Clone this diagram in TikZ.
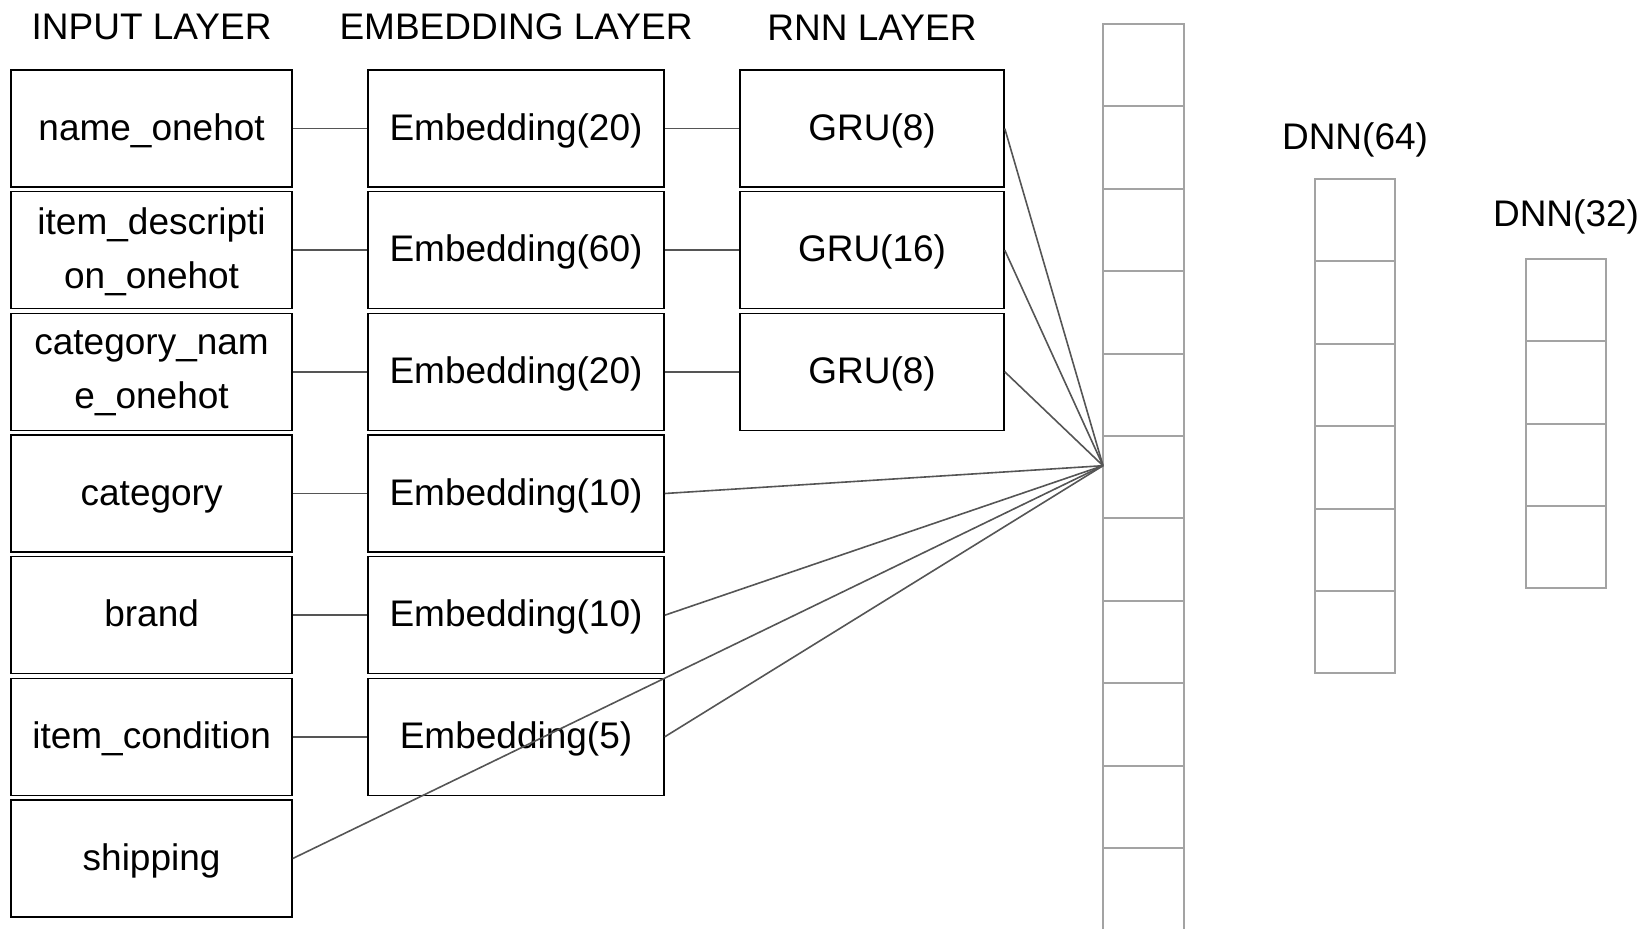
\documentclass[tikz,border=0pt]{standalone}
\usepackage{fontspec}
\setmainfont{Liberation Sans}
\definecolor{connc}{HTML}{555555}
\definecolor{cellc}{HTML}{A3A3A3}
\begin{document}
\begin{tikzpicture}[x=1pt,y=-1pt,
  box/.style={draw=black, line width=1.5pt, minimum height=117pt, inner sep=0pt, align=center, font=\fontsize{37}{54}\selectfont},
  one/.style={text height=26pt, text depth=3pt},
  two/.style={text depth=4pt},
  inbox/.style={box, minimum width=280.8pt},
  embbox/.style={box, minimum width=296pt},
  grubox/.style={box, minimum width=264pt},
  conn/.style={draw=connc, line width=1.6pt},
  cell/.style={draw=cellc, line width=2pt},
  title/.style={font=\fontsize{37}{44}\selectfont, inner sep=0pt, text height=26pt, text depth=7pt}]
\useasboundingbox (0,0) rectangle (1645,929);

% titles
\node[title] (tin)  at (151.6,29.8) {INPUT LAYER};
\node[title] (temb) at (516,29.8) {EMBEDDING LAYER};
\node[title] (trnn) at (872,30.5) {RNN LAYER};
\node[title] (td64) at (1355,139.5) {DNN(64)};
\node[title] (td32) at (1566,217.2) {DNN(32)};

% input layer
\node[inbox,one] (in1) at (151.6,128.5) {name\_onehot};
\node[inbox,two] (in2) at (151.6,250.2) {item\_descripti\\on\_onehot};
\node[inbox,two] (in3) at (151.6,371.8) {category\_nam\\e\_onehot};
\node[inbox,one] (in4) at (151.6,493.5) {category};
\node[inbox,one] (in5) at (151.6,615.2) {brand};
\node[inbox,one] (in6) at (151.6,736.8) {item\_condition};
\node[inbox,one] (in7) at (151.6,858.5) {shipping};

% embedding layer
\node[embbox,one] (e1) at (516,128.5) {Embedding(20)};
\node[embbox,one] (e2) at (516,250.2) {Embedding(60)};
\node[embbox,one] (e3) at (516,371.8) {Embedding(20)};
\node[embbox,one] (e4) at (516,493.5) {Embedding(10)};
\node[embbox,one] (e5) at (516,615.2) {Embedding(10)};
\node[embbox,one] (e6) at (516,736.8) {Embedding(5)};

% rnn layer
\node[grubox,one] (g1) at (872,128.5) {GRU(8)};
\node[grubox,one] (g2) at (872,250.2) {GRU(16)};
\node[grubox,one] (g3) at (872,371.8) {GRU(8)};

% concatenated column
\coordinate (hub) at (1103,465.7);
\draw[cell] (1103,929) -- (1103,24) -- (1184,24) -- (1184,929);
\foreach \k in {1,...,10} {
  \draw[cell] (1103,{24+82.4*\k}) -- (1184,{24+82.4*\k});
}

% DNN(64)
\draw[cell] (1314.5,179) rectangle (1395,673.4);
\foreach \k in {1,...,5} {
  \draw[cell] (1314.5,{179+82.4*\k}) -- (1395,{179+82.4*\k});
}

% DNN(32)
\draw[cell] (1525.5,258.7) rectangle (1606,588.3);
\foreach \k in {1,...,3} {
  \draw[cell] (1525.5,{258.7+82.4*\k}) -- (1606,{258.7+82.4*\k});
}

% connectors
\draw[conn] (in1.east) -- (e1.west);
\draw[conn] (in2.east) -- (e2.west);
\draw[conn] (in3.east) -- (e3.west);
\draw[conn] (in4.east) -- (e4.west);
\draw[conn] (in5.east) -- (e5.west);
\draw[conn] (in6.east) -- (e6.west);
\draw[conn] (e1.east) -- (g1.west);
\draw[conn] (e2.east) -- (g2.west);
\draw[conn] (e3.east) -- (g3.west);
\draw[conn] (g1.east) -- (hub);
\draw[conn] (g2.east) -- (hub);
\draw[conn] (g3.east) -- (hub);
\draw[conn] (e4.east) -- (hub);
\draw[conn] (e5.east) -- (hub);
\draw[conn] (e6.east) -- (hub);
\draw[conn] (in7.east) -- (hub);
\end{tikzpicture}
\end{document}
